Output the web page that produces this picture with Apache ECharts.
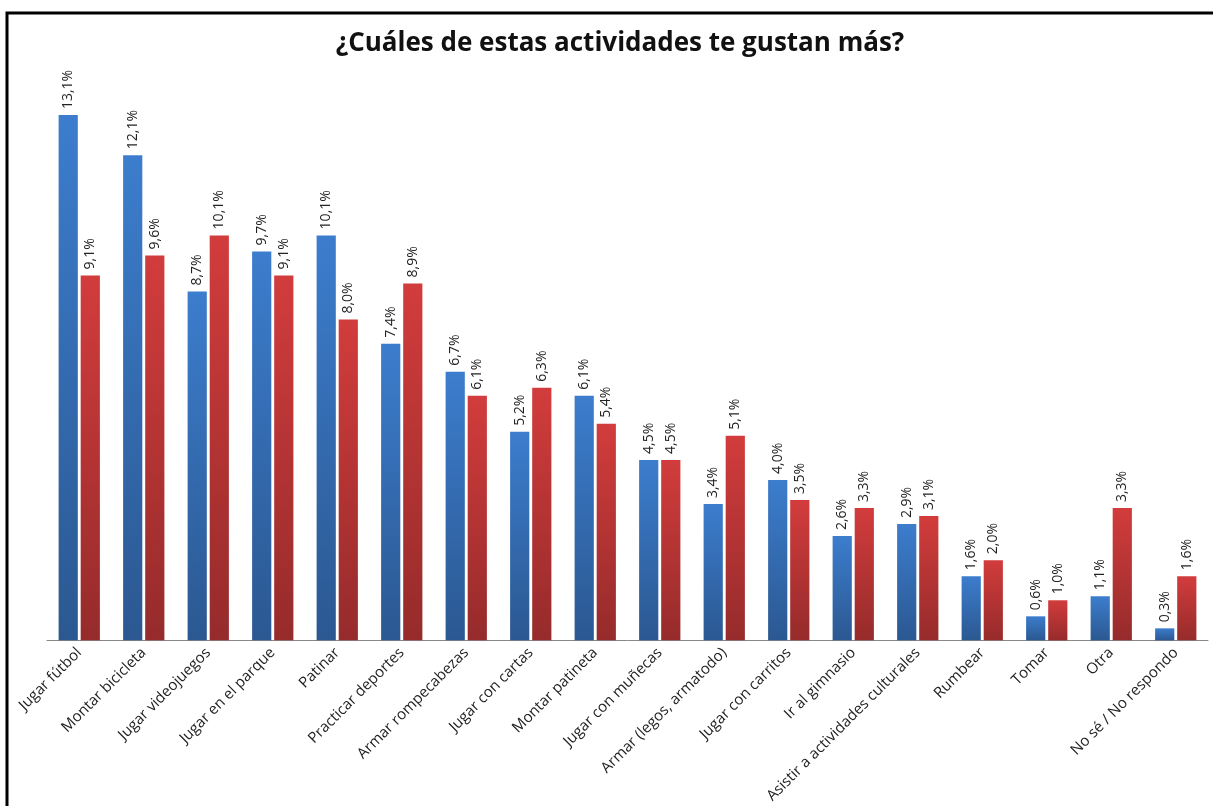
<!DOCTYPE html>
<html>
<head>
<meta charset="utf-8">
<script src="https://cdn.jsdelivr.net/npm/echarts@6/dist/echarts.min.js"></script>
<style>
html, body { margin: 0; padding: 0; background: #fff; }
#chart { width: 1213px; height: 806px; }
</style>
</head>
<body>
<div id="chart"></div>
<script>
// actividades
const categories = [
    'Jugar fútbol', 'Montar bicicleta', 'Jugar videojuegos', 'Jugar en el parque',
    'Patinar', 'Practicar deportes', 'Armar rompecabezas', 'Jugar con cartas',
    'Montar patineta', 'Jugar con muñecas', 'Armar (legos, armatodo)', 'Jugar con carritos',
    'Ir al gimnasio', 'Asistir a actividades culturales', 'Rumbear', 'Tomar',
    'Otra', 'No sé / No respondo'
];
const serieAzul = [13.1, 12.1, 8.7, 9.7, 10.1, 7.4, 6.7, 5.2, 6.1, 4.5, 3.4, 4.0, 2.6, 2.9, 1.6, 0.6, 1.1, 0.3];
const serieRoja = [9.1, 9.6, 10.1, 9.1, 8.0, 8.9, 6.1, 6.3, 5.4, 4.5, 5.1, 3.5, 3.3, 3.1, 2.0, 1.0, 3.3, 1.6];

const fontCal = 'Open Sans, Noto Sans, sans-serif';

function grad(top, bottom) {
    return new echarts.graphic.LinearGradient(0, 0, 0, 1, [
        { offset: 0, color: top },
        { offset: 1, color: bottom }
    ]);
}

const etiqueta = {
    show: true,
    position: 'top',
    rotate: 90,
    align: 'left',
    verticalAlign: 'middle',
    distance: 6,
    color: '#222',
    fontFamily: fontCal,
    fontSize: 14,
    formatter: function (p) {
        return p.value.toFixed(1).replace('.', ',') + '%';
    }
};

const chart = echarts.init(document.getElementById('chart'));
chart.setOption({
    animation: false,
    title: {
        text: '¿Cuáles de estas actividades te gustan más?',
        left: 615,
        textAlign: 'center',
        top: 26,
        textStyle: { fontFamily: fontCal, fontSize: 26, fontWeight: 'bold', color: '#111' }
    },
    graphic: [{
        type: 'polyline',
        shape: { points: [[7, 806], [7, 13], [1213, 13]] },
        style: { stroke: '#000', lineWidth: 3, fill: null }
    }],
    grid: { left: 47, right: 5, top: 79, bottom: 165 },
    xAxis: {
        type: 'category',
        data: categories,
        axisTick: { show: false },
        axisLine: { lineStyle: { color: '#888', width: 1 } },
        axisLabel: {
            interval: 0,
            rotate: 45,
            margin: 10,
            color: '#222',
            fontFamily: fontCal,
            fontSize: 15
        }
    },
    yAxis: {
        type: 'value',
        min: 0,
        max: 14,
        show: false,
        splitLine: { show: false }
    },
    series: [{
        type: 'bar',
        data: serieAzul,
        barGap: '15%',
        barCategoryGap: '36%',
        itemStyle: { color: grad('#3c7dcd', '#2b5891') },
        label: etiqueta
    }, {
        type: 'bar',
        data: serieRoja,
        itemStyle: { color: grad('#d23c3c', '#962b2b') },
        label: etiqueta
    }]
});
</script>
</body>
</html>
